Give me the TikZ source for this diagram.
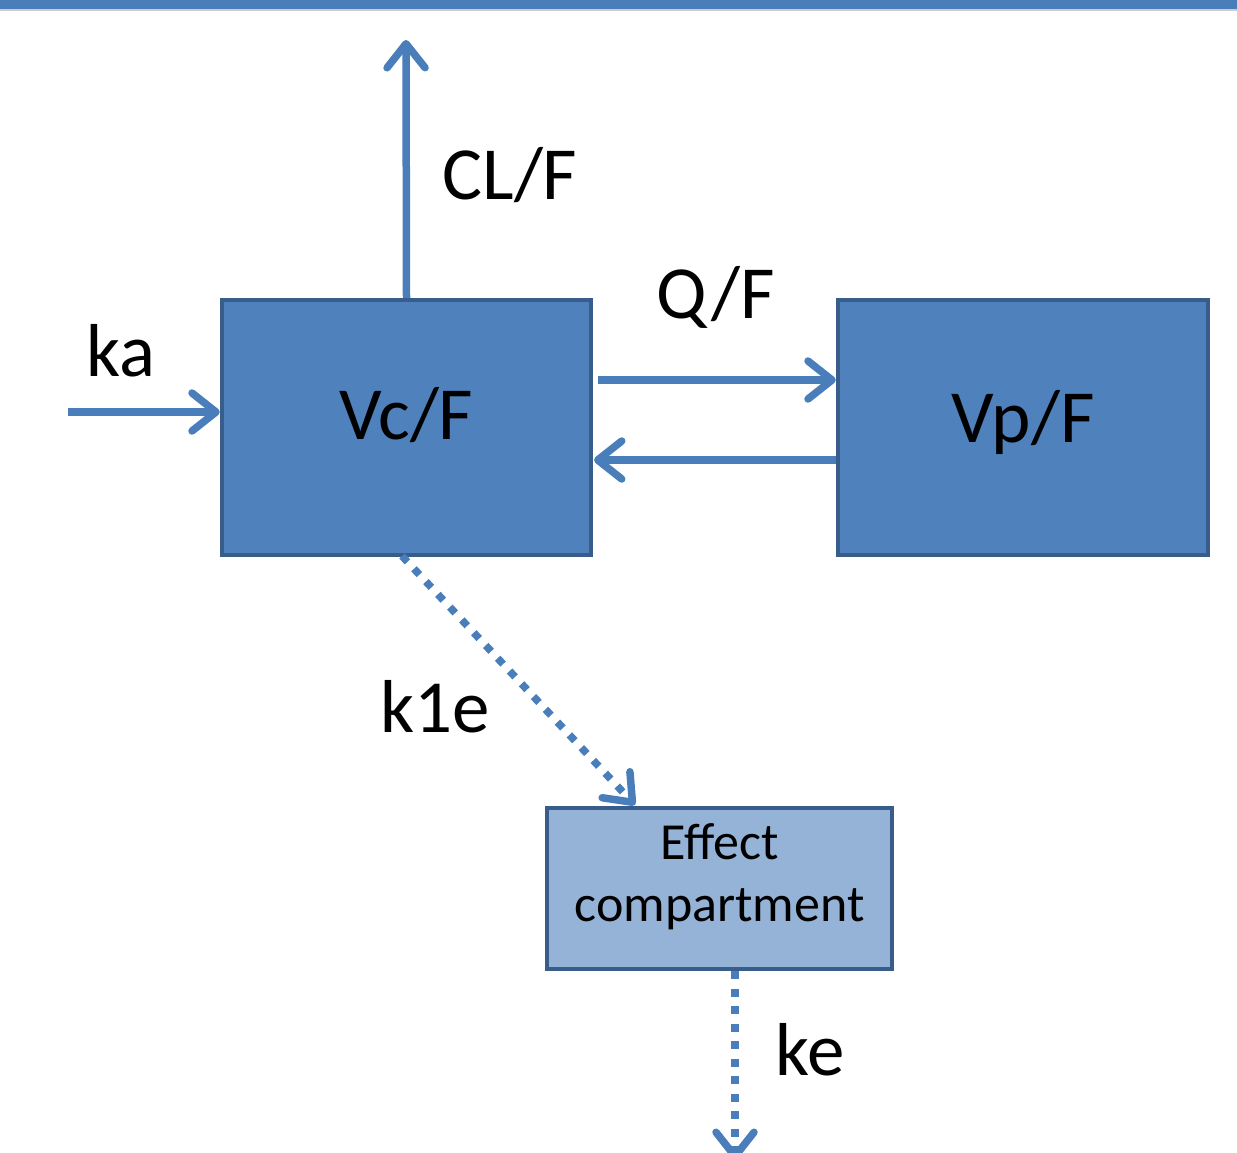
\documentclass[tikz,border=0pt]{standalone}
\usepackage{fontspec}
\setmainfont{Carlito}
\usetikzlibrary{arrows.meta}
\definecolor{barblue}{RGB}{74,126,187}
\definecolor{arrblue}{RGB}{74,126,187}
\definecolor{boxfill}{RGB}{79,129,189}
\definecolor{boxline}{RGB}{56,93,138}
\definecolor{lightfill}{RGB}{149,179,215}
\tikzset{
  cbox/.style={draw=boxline, line width=4.5pt, fill=boxfill, rectangle, inner sep=0pt},
  ebox/.style={draw=boxline, line width=4.5pt, fill=lightfill, rectangle, inner sep=0pt},
  flow/.style={draw=arrblue, line width=7.5pt, -{Straight Barb[length=24pt,width=38pt,round]}},
  dotflow/.style={flow, dash pattern=on 8pt off 9.5pt},
  lbl/.style={font=\fontsize{75}{90}\selectfont, text=black, inner sep=0pt},
  elbl/.style={font=\fontsize{52}{62}\selectfont, text=black, align=center, inner sep=0pt}
}
\begin{document}
\begin{tikzpicture}[x=1pt,y=-1pt]
\useasboundingbox (0,0) rectangle (1237,1152);
\fill[barblue] (0,0) rectangle (1237,9);
\fill[black!20] (0,9) rectangle (1237,10.5);
% boxes
\node[cbox, minimum width=369pt, minimum height=255pt,
      label={[lbl, yshift=12pt]center:Vc/F}] (vc) at (406.5,427.5) {};
\node[cbox, minimum width=370pt, minimum height=255pt,
      label={[lbl, yshift=5pt]center:Vp/F}] (vp) at (1023,427.5) {};
\node[ebox, minimum width=345pt, minimum height=161pt,
      label={[elbl, yshift=12pt]center:Effect\\compartment}] (eff) at (719.5,888.5) {};
% free ends
\coordinate (clout) at (406,40);
\coordinate (kain) at (68,412);
\coordinate (keout) at (735,1160);
\coordinate (qa) at (598,380);
\coordinate (qc) at (838,460);
\coordinate (qd) at (594,460);
\coordinate (k1s) at (402,556);
\coordinate (k1t) at (635,805);
% connectors
\draw[flow] (vc.north) -- (clout);
\draw[flow] (kain) -- (vc.west |- kain);
\draw[flow] (qa) -- (vp.west |- qa);
\draw[flow] (vp.west |- qc) -- (qd);
\draw[dotflow] (k1s) -- (k1t);
\draw[dotflow] (eff.south -| keout) -- (keout);
% labels
\node[lbl] (lcl) at (510,175) {CL/F};
\node[lbl] (lka) at (121,351) {ka};
\node[lbl] (lq) at (716,297) {Q/F};
\node[lbl] (lk1e) at (435,707) {k1e};
\node[lbl] (lke) at (810,1050) {ke};
\end{tikzpicture}
\end{document}
